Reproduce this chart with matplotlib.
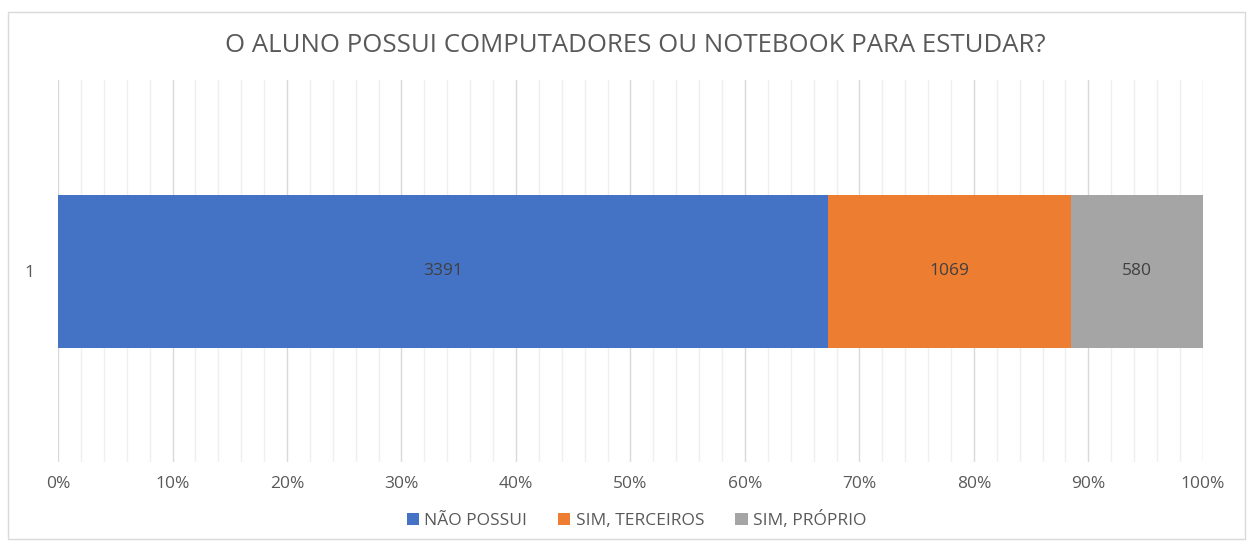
import matplotlib.pyplot as plt
from matplotlib.patches import Rectangle
from matplotlib.ticker import MultipleLocator, PercentFormatter

plt.rcParams['font.family'] = ['Open Sans', 'DejaVu Sans']

# dados
categorias = ["NÃO POSSUI", "SIM, TERCEIROS", "SIM, PRÓPRIO"]
valores = [3391, 1069, 580]
cores = ["#4472C4", "#ED7D31", "#A5A5A5"]
rotulo_y = ["1"]

total = sum(valores)
percentuais = [v / total * 100 for v in valores]

fig = plt.figure(figsize=(12.53, 5.43), dpi=100)
ax = fig.add_axes([0.0463, 0.149, 0.9137, 0.703])

# borda do gráfico
fig.patches.append(Rectangle((0.006, 0.008), 0.988, 0.97, transform=fig.transFigure,
                             fill=False, edgecolor="#d9d9d9", linewidth=1))

esquerda = 0
for cat, val, pct, cor in zip(categorias, valores, percentuais, cores):
    ax.barh(0, pct, left=esquerda, height=0.4, color=cor, label=cat, zorder=3)
    ax.text(esquerda + pct / 2, 0, str(val), ha="center", va="center",
            color="#404040", fontsize=12.5, zorder=4)
    esquerda += pct

ax.set_xlim(0, 100)
ax.set_ylim(-0.5, 0.5)
ax.set_yticks([0])
ax.set_yticklabels(rotulo_y)
ax.xaxis.set_major_locator(MultipleLocator(10))
ax.xaxis.set_minor_locator(MultipleLocator(2))
ax.xaxis.set_major_formatter(PercentFormatter(decimals=0))
ax.grid(True, which="major", axis="x", color="#d9d9d9", linewidth=1, zorder=0)
ax.grid(True, which="minor", axis="x", color="#efefef", linewidth=1, zorder=0)
ax.tick_params(axis="both", which="both", length=0, colors="#595959", labelsize=12.5)
ax.tick_params(axis="x", pad=10)
ax.tick_params(axis="y", pad=17)
for s in ax.spines.values():
    s.set_visible(False)

fig.text(0.507, 0.917, "O ALUNO POSSUI COMPUTADORES OU NOTEBOOK PARA ESTUDAR?",
         ha="center", va="center", fontsize=18.5, color="#595959")

fig.legend(loc="center", bbox_to_anchor=(0.508, 0.042), ncol=3, frameon=False,
           fontsize=12.5, labelcolor="#595959", handlelength=0.7, handleheight=0.7,
           handletextpad=0.3, columnspacing=1.8)

plt.savefig("out.png", dpi=100)
